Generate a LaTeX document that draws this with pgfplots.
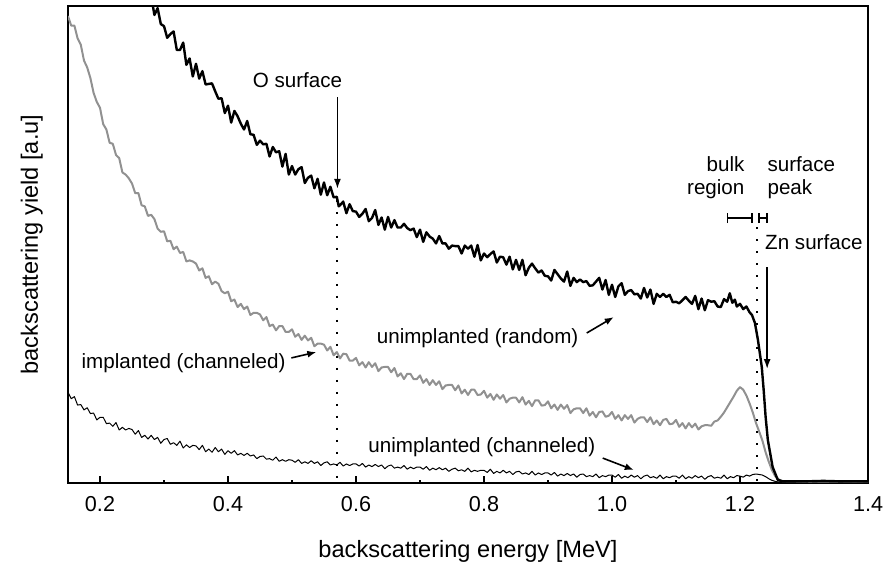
\documentclass[border=0pt]{standalone}
\usepackage{fontspec}
\setmainfont{Liberation Sans}
\usepackage{pgfplots}
\pgfplotsset{compat=1.18}
\usetikzlibrary{arrows.meta}
\newcommand\annot{\fontsize{10.3}{11.3}\selectfont}
\newcommand\ticks{\fontsize{10.8}{12}\selectfont}
\newcommand\labl{\fontsize{11.8}{14}\selectfont}
\definecolor{implgray}{RGB}{145,145,145}
\begin{document}
\begin{tikzpicture}
\begin{axis}[
  scale only axis, width=400pt, height=238.5pt,
  xmin=0.15, xmax=1.40, ymin=0, ymax=9,
  axis line style={line width=1pt},
  xtick={0.2,0.4,0.6,0.8,1.0,1.2,1.4},
  xticklabels={0.2,0.4,0.6,0.8,1.0,1.2,1.4},
  minor xtick={0.3,0.5,0.7,0.9,1.1,1.3},
  ytick=\empty, minor ytick={1,2,3,4,5,6,7,8},
  tick align=inside, xtick pos=left, ytick pos=left,
  major tick length=3.5pt, minor tick length=1.7pt,
  tick style={black, line width=0.6pt},
  xticklabel style={font=\ticks, yshift=-3.3pt},
  clip mode=individual,
]
% implanted (channeled), gray
\addplot[implgray, line width=1pt, line join=round] coordinates {
(0.150,8.81)(0.155,8.63)(0.160,8.63)(0.165,8.39)(0.170,8.27)(0.175,7.97)(0.180,7.84)(0.185,7.64)(0.190,7.36)(0.195,7.19)
(0.200,7.08)(0.205,6.77)(0.210,6.67)(0.215,6.42)(0.220,6.40)(0.225,6.19)(0.230,6.13)(0.235,5.86)(0.240,5.82)(0.245,5.75)
(0.250,5.65)(0.255,5.47)(0.260,5.47)(0.265,5.24)(0.270,5.22)(0.275,5.04)(0.280,5.06)(0.285,4.98)(0.290,4.80)(0.295,4.74)
(0.300,4.75)(0.305,4.56)(0.310,4.57)(0.315,4.41)(0.320,4.46)(0.325,4.34)(0.330,4.36)(0.335,4.18)(0.340,4.20)(0.345,4.18)
(0.350,4.14)(0.355,4.01)(0.360,4.05)(0.365,3.87)(0.370,3.90)(0.375,3.75)(0.380,3.80)(0.385,3.76)(0.390,3.62)(0.395,3.58)
(0.400,3.61)(0.405,3.43)(0.410,3.46)(0.415,3.32)(0.420,3.38)(0.425,3.28)(0.430,3.33)(0.435,3.17)(0.440,3.21)(0.445,3.21)
(0.450,3.18)(0.455,3.07)(0.460,3.13)(0.465,2.96)(0.470,2.99)(0.475,2.88)(0.480,2.96)(0.485,2.96)(0.490,2.85)(0.495,2.85)
(0.500,2.90)(0.505,2.76)(0.510,2.81)(0.515,2.70)(0.520,2.78)(0.525,2.69)(0.530,2.74)(0.535,2.58)(0.540,2.63)(0.545,2.63)
(0.550,2.61)(0.555,2.50)(0.560,2.57)(0.565,2.41)(0.570,2.47)(0.575,2.35)(0.580,2.44)(0.585,2.43)(0.590,2.31)(0.595,2.31)
(0.600,2.36)(0.605,2.22)(0.610,2.28)(0.615,2.18)(0.620,2.28)(0.625,2.19)(0.630,2.26)(0.635,2.11)(0.640,2.18)(0.645,2.19)
(0.650,2.19)(0.655,2.09)(0.660,2.17)(0.665,2.01)(0.670,2.07)(0.675,1.96)(0.680,2.06)(0.685,2.06)(0.690,1.96)(0.695,1.96)
(0.700,2.03)(0.705,1.89)(0.710,1.96)(0.715,1.85)(0.720,1.94)(0.725,1.85)(0.730,1.92)(0.735,1.77)(0.740,1.84)(0.745,1.85)
(0.750,1.85)(0.755,1.75)(0.760,1.84)(0.765,1.69)(0.770,1.76)(0.775,1.66)(0.780,1.76)(0.785,1.76)(0.790,1.66)(0.795,1.67)
(0.800,1.74)(0.805,1.61)(0.810,1.68)(0.815,1.57)(0.820,1.67)(0.825,1.59)(0.830,1.66)(0.835,1.52)(0.840,1.59)(0.845,1.61)
(0.850,1.61)(0.855,1.52)(0.860,1.62)(0.865,1.48)(0.870,1.55)(0.875,1.45)(0.880,1.56)(0.885,1.56)(0.890,1.46)(0.895,1.47)
(0.900,1.54)(0.905,1.41)(0.910,1.48)(0.915,1.38)(0.920,1.48)(0.925,1.40)(0.930,1.47)(0.935,1.32)(0.940,1.39)(0.945,1.41)
(0.950,1.41)(0.955,1.32)(0.960,1.41)(0.965,1.27)(0.970,1.34)(0.975,1.24)(0.980,1.34)(0.985,1.35)(0.990,1.25)(0.995,1.27)
(1.000,1.34)(1.005,1.21)(1.010,1.28)(1.015,1.18)(1.020,1.28)(1.025,1.21)(1.030,1.28)(1.035,1.14)(1.040,1.21)(1.045,1.24)
(1.050,1.24)(1.055,1.15)(1.060,1.24)(1.065,1.11)(1.070,1.18)(1.075,1.09)(1.080,1.19)(1.085,1.21)(1.090,1.11)(1.095,1.12)
(1.100,1.19)(1.105,1.06)(1.110,1.13)(1.115,1.03)(1.120,1.13)(1.125,1.05)(1.130,1.12)(1.135,1.01)(1.140,1.07)(1.145,1.09)
(1.150,1.09)(1.155,1.08)(1.160,1.16)(1.165,1.18)(1.170,1.25)(1.175,1.33)(1.180,1.43)(1.185,1.53)(1.190,1.63)(1.195,1.74)
(1.200,1.81)(1.205,1.76)(1.210,1.65)(1.215,1.50)(1.220,1.33)(1.225,1.13)(1.230,0.97)(1.235,0.80)(1.240,0.58)(1.245,0.40)
(1.250,0.24)(1.255,0.13)(1.260,0.07)(1.267,0.03)(1.300,0.02)(1.400,0.02)
};
% unimplanted (channeled), thin black
\addplot[black, line width=0.5pt, line join=round] coordinates {
(0.150,1.71)(0.155,1.59)(0.160,1.63)(0.165,1.47)(0.170,1.48)(0.175,1.38)(0.180,1.42)(0.185,1.31)(0.190,1.32)(0.195,1.19)
(0.200,1.24)(0.205,1.24)(0.210,1.12)(0.215,1.13)(0.220,1.07)(0.225,1.14)(0.230,1.00)(0.235,1.05)(0.240,1.00)(0.245,1.03)
(0.250,1.01)(0.255,0.92)(0.260,0.99)(0.265,0.86)(0.270,0.90)(0.275,0.83)(0.280,0.90)(0.285,0.82)(0.290,0.86)(0.295,0.75)
(0.300,0.82)(0.305,0.84)(0.310,0.73)(0.315,0.76)(0.320,0.71)(0.325,0.79)(0.330,0.66)(0.335,0.72)(0.340,0.67)(0.345,0.71)
(0.350,0.70)(0.355,0.63)(0.360,0.71)(0.365,0.59)(0.370,0.64)(0.375,0.58)(0.380,0.67)(0.385,0.59)(0.390,0.64)(0.395,0.54)
(0.400,0.61)(0.405,0.56)(0.410,0.61)(0.415,0.53)(0.420,0.56)(0.425,0.52)(0.430,0.56)(0.435,0.51)(0.440,0.53)(0.445,0.46)
(0.450,0.50)(0.455,0.51)(0.460,0.45)(0.465,0.46)(0.470,0.43)(0.475,0.49)(0.480,0.41)(0.485,0.44)(0.490,0.41)(0.495,0.44)
(0.500,0.43)(0.505,0.39)(0.510,0.44)(0.515,0.37)(0.520,0.40)(0.525,0.37)(0.530,0.42)(0.535,0.37)(0.540,0.40)(0.545,0.33)
(0.550,0.38)(0.555,0.40)(0.560,0.34)(0.565,0.36)(0.570,0.34)(0.575,0.39)(0.580,0.32)(0.585,0.36)(0.590,0.33)(0.595,0.36)
(0.600,0.36)(0.605,0.32)(0.610,0.37)(0.615,0.30)(0.620,0.34)(0.625,0.31)(0.630,0.35)(0.635,0.31)(0.640,0.34)(0.645,0.27)
(0.650,0.32)(0.655,0.34)(0.660,0.28)(0.665,0.30)(0.670,0.28)(0.675,0.33)(0.680,0.26)(0.685,0.30)(0.690,0.27)(0.695,0.30)
(0.700,0.30)(0.705,0.26)(0.710,0.31)(0.715,0.24)(0.720,0.28)(0.725,0.25)(0.730,0.29)(0.735,0.25)(0.740,0.28)(0.745,0.22)
(0.750,0.26)(0.755,0.28)(0.760,0.23)(0.765,0.25)(0.770,0.22)(0.775,0.28)(0.780,0.21)(0.785,0.24)(0.790,0.22)(0.795,0.24)
(0.800,0.24)(0.805,0.20)(0.810,0.26)(0.815,0.18)(0.820,0.22)(0.825,0.19)(0.830,0.24)(0.835,0.19)(0.840,0.22)(0.845,0.16)
(0.850,0.21)(0.855,0.22)(0.860,0.17)(0.865,0.19)(0.870,0.16)(0.875,0.22)(0.880,0.15)(0.885,0.19)(0.890,0.16)(0.895,0.19)
(0.900,0.19)(0.905,0.15)(0.910,0.20)(0.915,0.13)(0.920,0.17)(0.925,0.14)(0.930,0.18)(0.935,0.14)(0.940,0.17)(0.945,0.11)
(0.950,0.16)(0.955,0.17)(0.960,0.12)(0.965,0.14)(0.970,0.12)(0.975,0.17)(0.980,0.10)(0.985,0.14)(0.990,0.12)(0.995,0.15)
(1.000,0.15)(1.005,0.11)(1.010,0.16)(1.015,0.09)(1.020,0.13)(1.025,0.10)(1.030,0.15)(1.035,0.11)(1.040,0.14)(1.045,0.08)
(1.050,0.13)(1.055,0.15)(1.060,0.10)(1.065,0.12)(1.070,0.09)(1.075,0.15)(1.080,0.08)(1.085,0.12)(1.090,0.10)(1.095,0.13)
(1.100,0.13)(1.105,0.09)(1.110,0.15)(1.115,0.08)(1.120,0.12)(1.125,0.09)(1.130,0.14)(1.135,0.10)(1.140,0.13)(1.145,0.07)
(1.150,0.12)(1.155,0.14)(1.160,0.09)(1.165,0.11)(1.170,0.09)(1.175,0.15)(1.180,0.08)(1.185,0.12)(1.190,0.10)(1.195,0.14)
(1.200,0.13)(1.205,0.11)(1.210,0.15)(1.215,0.13)(1.220,0.16)(1.225,0.17)(1.230,0.16)(1.235,0.15)(1.240,0.12)(1.245,0.08)
(1.250,0.05)(1.255,0.03)(1.260,0.02)(1.280,0.02)(1.300,0.03)(1.320,0.02)(1.350,0.02)(1.380,0.03)(1.400,0.02)
};
% unimplanted (random), thick black
\addplot[black, line width=1.2pt, line join=round] coordinates {
(0.280,9.19)(0.285,8.83)(0.290,8.96)(0.295,8.66)(0.300,8.62)(0.305,8.40)(0.310,8.47)(0.315,8.52)(0.320,8.17)(0.325,8.17)
(0.330,8.31)(0.335,7.89)(0.340,8.01)(0.345,7.67)(0.350,7.91)(0.355,7.63)(0.360,7.77)(0.365,7.52)(0.370,7.53)(0.375,7.54)
(0.380,7.39)(0.385,7.25)(0.390,7.26)(0.395,6.98)(0.400,7.12)(0.405,6.80)(0.410,7.02)(0.415,6.92)(0.420,6.78)(0.425,6.67)
(0.430,6.83)(0.435,6.58)(0.440,6.57)(0.445,6.38)(0.450,6.46)(0.455,6.39)(0.460,6.40)(0.465,6.16)(0.470,6.34)(0.475,6.24)
(0.480,6.26)(0.485,5.97)(0.490,6.21)(0.495,5.82)(0.500,5.98)(0.505,5.82)(0.510,5.92)(0.515,5.96)(0.520,5.66)(0.525,5.76)
(0.530,5.80)(0.535,5.56)(0.540,5.74)(0.545,5.44)(0.550,5.67)(0.555,5.43)(0.560,5.59)(0.565,5.39)(0.570,5.40)(0.573,5.22)
(0.578,5.28)(0.580,5.31)(0.585,5.09)(0.590,5.26)(0.595,5.13)(0.600,5.12)(0.605,5.02)(0.610,5.08)(0.615,5.17)(0.620,4.94)
(0.625,5.00)(0.630,5.15)(0.635,4.87)(0.640,5.01)(0.645,4.78)(0.650,5.02)(0.655,4.82)(0.660,4.96)(0.665,4.82)(0.670,4.82)
(0.675,4.89)(0.680,4.81)(0.685,4.77)(0.690,4.80)(0.695,4.64)(0.700,4.78)(0.705,4.55)(0.710,4.73)(0.715,4.65)(0.720,4.61)
(0.725,4.52)(0.730,4.66)(0.735,4.52)(0.740,4.52)(0.745,4.42)(0.750,4.48)(0.755,4.47)(0.760,4.47)(0.765,4.33)(0.770,4.48)
(0.775,4.42)(0.780,4.48)(0.785,4.27)(0.790,4.49)(0.795,4.20)(0.800,4.33)(0.805,4.26)(0.810,4.32)(0.815,4.37)(0.820,4.16)
(0.825,4.27)(0.830,4.26)(0.835,4.12)(0.840,4.27)(0.845,4.03)(0.850,4.21)(0.855,4.02)(0.860,4.21)(0.865,3.92)(0.870,4.06)
(0.875,4.14)(0.880,4.05)(0.885,3.97)(0.890,4.01)(0.895,3.91)(0.900,3.90)(0.905,3.82)(0.910,4.02)(0.915,3.94)(0.920,3.86)
(0.925,3.80)(0.930,3.99)(0.935,3.72)(0.940,3.87)(0.945,3.79)(0.950,3.84)(0.955,3.79)(0.960,3.81)(0.965,3.72)(0.970,3.73)
(0.975,3.80)(0.980,3.87)(0.985,3.65)(0.990,3.83)(0.995,3.55)(1.000,3.74)(1.005,3.51)(1.010,3.71)(1.015,3.77)(1.020,3.55)
(1.025,3.62)(1.030,3.64)(1.035,3.56)(1.040,3.57)(1.045,3.48)(1.050,3.68)(1.055,3.50)(1.060,3.65)(1.065,3.38)(1.070,3.57)
(1.075,3.51)(1.080,3.57)(1.085,3.51)(1.090,3.55)(1.095,3.41)(1.100,3.42)(1.105,3.39)(1.110,3.45)(1.115,3.51)(1.120,3.44)
(1.125,3.38)(1.130,3.53)(1.135,3.28)(1.140,3.48)(1.145,3.26)(1.150,3.45)(1.155,3.42)(1.160,3.43)(1.165,3.33)(1.170,3.32)
(1.175,3.47)(1.180,3.42)(1.184,3.58)(1.188,3.40)(1.192,3.46)(1.195,3.33)(1.200,3.38)(1.205,3.28)(1.210,3.33)(1.215,3.22)
(1.2187,3.17)(1.2233,3.02)(1.228,2.70)(1.234,2.19)(1.237,1.75)(1.240,1.25)(1.2435,0.81)(1.251,0.30)(1.259,0.06)(1.267,0.03)
(1.300,0.03)(1.330,0.04)(1.360,0.03)(1.400,0.03)
};
% dotted guide lines
\draw[line width=1pt, dash pattern=on 1pt off 5pt] (axis cs:0.571,5.34) -- (axis cs:0.571,0);
\draw[line width=1pt, dash pattern=on 1pt off 5pt] (axis cs:1.226,4.83) -- (axis cs:1.226,0);
% O surface
\node[font=\annot] at (axis cs:0.5085,7.60) {O surface};
\draw[line width=0.8pt, -{Latex[length=5pt,width=3.5pt]}] (axis cs:0.571,7.28) -- (axis cs:0.571,5.55);
% bulk / surface peak
\node[font=\annot, align=right, anchor=east, inner sep=0pt] at (axis cs:1.2075,5.764) {bulk\\region};
\node[font=\annot, align=left, anchor=west, inner sep=0pt] at (axis cs:1.2424,5.764) {surface\\peak};
\draw[line width=0.8pt, {Bar[width=5pt]}-{Bar[width=5pt]}] (axis cs:1.1794,5.0) -- (axis cs:1.2201,5.0);
\draw[line width=0.8pt, {Bar[width=5pt]}-{Bar[width=5pt]}] (axis cs:1.2280,5.0) -- (axis cs:1.2436,5.0);
% Zn surface
\node[font=\annot, anchor=west, inner sep=0pt] at (axis cs:1.2388,4.54) {Zn surface};
\draw[line width=0.8pt, -{Latex[length=5pt,width=3.5pt]}] (axis cs:1.2424,4.075) -- (axis cs:1.2424,2.15);
% series labels
\node[font=\annot] at (axis cs:0.790,2.736) {unimplanted (random)};
\draw[line width=0.8pt, -{Latex[length=4.5pt,width=3.5pt]}] (axis cs:0.9605,2.83) -- (axis cs:1.0027,3.13);
\node[font=\annot] at (axis cs:0.3306,2.264) {implanted (channeled)};
\draw[line width=0.8pt, -{Latex[length=4.5pt,width=3.5pt]}] (axis cs:0.499,2.36) -- (axis cs:0.538,2.47);
\node[font=\annot] at (axis cs:0.7966,0.685) {unimplanted (channeled)};
\draw[line width=0.8pt, -{Latex[length=4.5pt,width=3.5pt]}] (axis cs:0.9855,0.47) -- (axis cs:1.034,0.245);
% axis labels
\node[font=\labl, anchor=base] at ([yshift=-37pt]rel axis cs:0.5,0) {backscattering energy [MeV]};
\node[font=\labl, anchor=base, rotate=90] at ([xshift=-15pt]rel axis cs:0,0.5) {backscattering yield [a.u]};
\end{axis}
\pgfresetboundingbox
\path[use as bounding box] ([shift={(-34pt,-40pt)}]current axis.south west) rectangle ([shift={(9.5pt,3pt)}]current axis.north east);
\end{tikzpicture}
\end{document}
